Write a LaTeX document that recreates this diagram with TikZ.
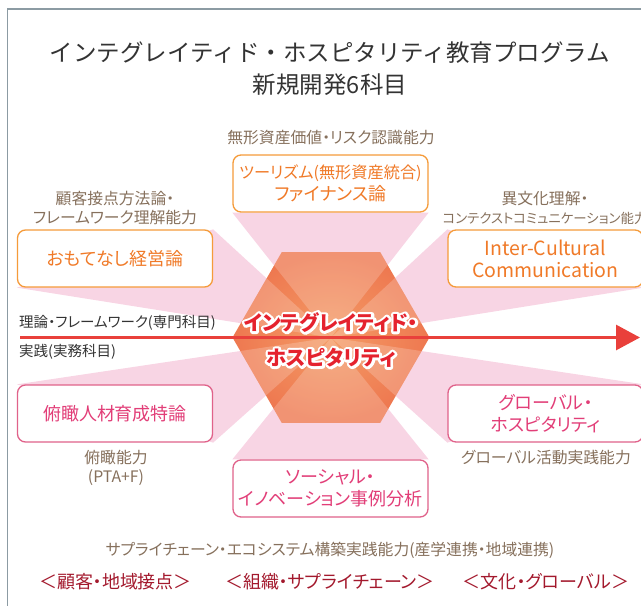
\documentclass[tikz,border=0pt]{standalone}
\usepackage{fontspec}
\setmainfont{Noto Sans CJK JP}[RawFeature=+palt]
\newfontfamily\fullwidth{Noto Sans CJK JP}
\usetikzlibrary{arrows.meta, positioning}

\definecolor{framegray}{HTML}{8C9BA3}
\definecolor{titlegray}{HTML}{333333}
\definecolor{skillbrown}{HTML}{86705C}
\definecolor{boxorange}{HTML}{F59B3A}
\definecolor{textorange}{HTML}{F07A28}
\definecolor{boxpink}{HTML}{E0628A}
\definecolor{textpink}{HTML}{E23E78}
\definecolor{beampink}{HTML}{F8D5E4}
\definecolor{hexouter}{HTML}{EE7850}
\definecolor{hexinner}{HTML}{F49C66}
\definecolor{axisred}{HTML}{E9403B}
\definecolor{corered}{HTML}{E5222E}
\definecolor{fieldred}{HTML}{A3192D}

% stroked white text behind the core label
\newcommand{\strokedtext}[1]{\special{pdf:literal direct 1 1 1 RG 1 j 5 w 2 Tr}#1\special{pdf:literal direct 0 Tr}}

\pgfdeclarelayer{background}
\pgfsetlayers{background,main}

\begin{document}
\begin{tikzpicture}[
    x=1pt, y=-1pt,
    >=Stealth,
    every node/.style={inner sep=0pt, align=center},
    subject/.style={draw, rounded corners=8pt, line width=1.3pt, fill=white,
        minimum width=195pt, minimum height=57pt, font=\fontsize{18}{22}\selectfont},
    orangebox/.style={subject, draw=boxorange, text=textorange},
    pinkbox/.style={subject, draw=boxpink, text=textpink},
    skill/.style={text=skillbrown, font=\fontsize{15.8}{19}\selectfont},
    field/.style={text=fieldred, font=\fontsize{18}{22}\selectfont},
    beam/.style={fill=beampink},
    corelabel/.style={font=\bfseries\fontsize{20.4}{35}\selectfont}
]
\useasboundingbox (0,0) rectangle (641,606);

% Frame
\draw[framegray, line width=1.5pt] (7.5,606) -- (7.5,9) -- (641,9);

% Title
\node (title) at (330,69) [text=titlegray, font=\fullwidth\fontsize{23.5}{32}\selectfont]
    {インテグレイティド・ホスピタリティ教育プログラム\\新規開発6科目};

% Subjects
\node (tb) at (330.5,183.5) [orangebox] {{\fontsize{16.2}{22}\selectfont ツーリズム(無形資産統合)}\\ファイナンス論};
\node (tl) at (115,258.5) [orangebox] {おもてなし経営論};
\node (tr) at (545.5,258.5) [orangebox, font=\fontsize{19.5}{22}\selectfont] {Inter-Cultural\\Communication};
\node (bl) at (115,413.5) [pinkbox] {俯瞰人材育成特論};
\node (br) at (545.5,413.5) [pinkbox] {グローバル・\\ホスピタリティ};
\node (bb) at (330.5,488.5) [pinkbox] {ソーシャル・\\イノベーション事例分析};

% Skills
\node (tbskill) at (331,138) [skill] {無形資産価値・リスク認識能力};
\node (tlskill) at (115,207.5) [skill] {顧客接点方法論・\\フレームワーク理解能力};
\node (trskill) at (545,207.5) [skill] {異文化理解・\\{\fontsize{13.4}{19}\selectfont コンテクストコミュニケーション能力}};
\node (blskill) at (116,467.5) [skill] {俯瞰能力\\(PTA+F)};
\node (brskill) at (546,458) [skill] {グローバル活動実践能力};
\node (bbskill) at (330,550) [skill] {サプライチェーン・エコシステム構築実践能力(産学連携・地域連携)};

% Axis
\coordinate (hc) at (331,337.5);
\coordinate (axisstart) at (20,337.5);
\coordinate (axisend) at (640,337.5);
\node (theory) at (19,323) [anchor=west, text=titlegray, font=\fontsize{14.5}{18}\selectfont]
    {理論・フレームワーク(専門科目)};
\node (practice) at (19,352) [anchor=west, text=titlegray, font=\fontsize{14.5}{18}\selectfont]
    {実践(実務科目)};
\draw[->, axisred, line width=3pt, >={Triangle[length=24pt, width=25pt]}] (axisstart) -- (axisend);

% Core
\node (coreglow) at (331,340) [corelabel, text=white]
    {\strokedtext{インテグレイティド・}\\\strokedtext{ホスピタリティ}};
\node (core) at (331,340) [corelabel, text=corered] {インテグレイティド・\\ホスピタリティ};

% Fields
\node (customer) at (115.5,582) [field] {＜顧客・地域接点＞};
\node (supply) at (330,582) [field] {＜組織・サプライチェーン＞};
\node (culture) at (546,582) [field] {＜文化・グローバル＞};

% Beams
\begin{pgfonlayer}{background}
\fill[beam] (tb.south west) -- (tb.south east) -- (hc) -- cycle;
\fill[beam] (tl.north east) -- (tl.south west) -- (hc) -- cycle;
\fill[beam] (tr.north west) -- (tr.south east) -- (hc) -- cycle;
\fill[beam] (bl.north west) -- (bl.south east) -- (hc) -- cycle;
\fill[beam] (br.north east) -- (br.south west) -- (hc) -- cycle;
\fill[beam] (bb.north west) -- (bb.north east) -- (hc) -- cycle;
\begin{scope}[shift={(hc)}]
\shade[inner color=hexinner, outer color=hexouter]
    (0:98.5) -- (60:98.5) -- (120:98.5) -- (180:98.5) -- (240:98.5) -- (300:98.5) -- cycle;
\end{scope}
\begin{scope}
\clip[shift={(hc)}] (0:98.5) -- (60:98.5) -- (120:98.5) -- (180:98.5) -- (240:98.5) -- (300:98.5) -- cycle;
\fill[white, opacity=0.2] (tb.south west) -- (tb.south east) -- (hc) -- cycle;
\fill[white, opacity=0.2] (tl.north east) -- (tl.south west) -- (hc) -- cycle;
\fill[white, opacity=0.2] (tr.north west) -- (tr.south east) -- (hc) -- cycle;
\fill[white, opacity=0.2] (bl.north west) -- (bl.south east) -- (hc) -- cycle;
\fill[white, opacity=0.2] (br.north east) -- (br.south west) -- (hc) -- cycle;
\fill[white, opacity=0.2] (bb.north west) -- (bb.north east) -- (hc) -- cycle;
\end{scope}
\end{pgfonlayer}

\end{tikzpicture}
\end{document}
